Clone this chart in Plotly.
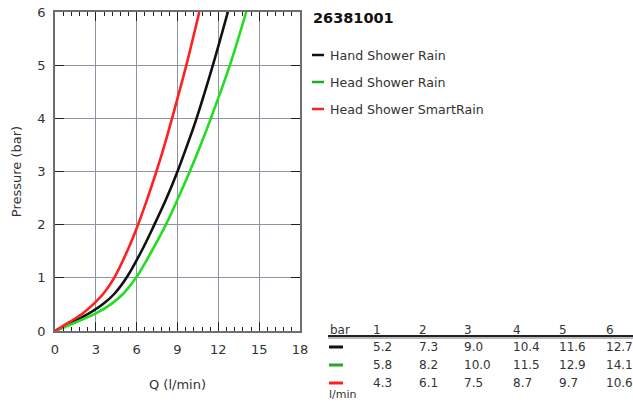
import plotly.graph_objects as go

# ---- data ----
title_text = "26381001"
series_names = ["Hand Shower Rain", "Head Shower Rain", "Head Shower SmartRain"]
series_colors = ["#111111", "#22dd22", "#ff2020"]
table_colors = ["#111111", "#22aa22", "#ff2020"]

# curves: flow (l/min) at given pressures
curve_pressures = [0, 0.17, 0.33, 0.52, 0.71, 1, 1.5, 2, 2.5, 3, 3.5, 4, 5, 6]
hand_curve_q = [0, 1.33, 2.5, 3.6, 4.4, 5.25, 6.35, 7.3, 8.2, 9.0, 9.72, 10.4, 11.6, 12.7]
head_curve_q = [0, 1.58, 3.0, 4.2, 5.05, 5.95, 7.1, 8.15, 9.05, 9.9, 10.7, 11.45, 12.85, 14.05]
smart_curve_q = [0, 1.08, 2.03, 2.88, 3.58, 4.35, 5.3, 6.1, 6.8, 7.45, 8.05, 8.6, 9.65, 10.6]

# table: flow (l/min) at given pressure (bar)
pressure_levels = [1, 2, 3, 4, 5, 6]
hand_q = [5.2, 7.3, 9.0, 10.4, 11.6, 12.7]
head_q = [5.8, 8.2, 10.0, 11.5, 12.9, 14.1]
smart_q = [4.3, 6.1, 7.5, 8.7, 9.7, 10.6]

x_ticks = [0, 3, 6, 9, 12, 15, 18]
y_ticks = [0, 1, 2, 3, 4, 5, 6]

W, H = 633, 403
FONT = "DejaVu Sans"

def px(x):
    return x / W

def py(y):
    return 1 - y / H

fig = go.Figure()
curves = [hand_curve_q, head_curve_q, smart_curve_q]
for name, color, q in zip(series_names, series_colors, curves):
    fig.add_trace(go.Scatter(
        x=q, y=curve_pressures, mode="lines",
        line=dict(color=color, width=2.6, shape="spline", smoothing=1.0),
        name=name, showlegend=False, cliponaxis=True, hoverinfo="skip"))

axis_common = dict(
    automargin=False,
    showline=True, linecolor="#6e6e6e", linewidth=1.5, mirror="ticks",
    ticks="inside", ticklen=9, tickcolor="#222222", tickwidth=1.2,
    showgrid=True, gridcolor="#8c93a3", gridwidth=1, zeroline=False,
    tickfont=dict(family=FONT, size=13, color="#333333"),
)

fig.update_layout(
    width=W, height=H, margin=dict(l=0, r=0, t=0, b=0, pad=0, autoexpand=False),
    paper_bgcolor="white", plot_bgcolor="white",
    font=dict(family=FONT, color="#333333"),
    xaxis=dict(domain=[px(55), px(300)], range=[0, 18], tickvals=x_ticks, ticklabelstandoff=6,
               title=dict(text="Q (l/min)", font=dict(family=FONT, size=13, color="#333333"), standoff=24),
               minor=dict(dtick=0.6, tick0=0, ticks="inside", ticklen=4, tickcolor="#222222", showgrid=False),
               **axis_common),
    yaxis=dict(domain=[py(331), py(12)], range=[0, 6], tickvals=y_ticks, ticklabelstandoff=5,
               title=dict(text="Pressure (bar)", font=dict(family=FONT, size=13, color="#333333"), standoff=13),
               **axis_common),
)

annotations = []
shapes = []

# title
annotations.append(dict(x=px(311), y=py(18), xref="paper", yref="paper", xanchor="left", yanchor="middle",
                        text="<b>" + title_text + "</b>", showarrow=False,
                        font=dict(family=FONT, size=14.5, color="#111111")))

# legend
legend_y = [55, 82, 109]
for name, color, ly in zip(series_names, table_colors, legend_y):
    shapes.append(dict(type="line", xref="paper", yref="paper", x0=px(312), x1=px(324), y0=py(ly), y1=py(ly),
                       line=dict(color=color, width=2.5)))
    annotations.append(dict(x=px(328), y=py(ly), xref="paper", yref="paper", xanchor="left", yanchor="middle",
                            text=name, showarrow=False, font=dict(family=FONT, size=12.6, color="#333333")))

# table
col_x = [371, 417, 462, 511, 557, 604]
header_y = 330
row_y = [347, 365, 383]
tfont = dict(family=FONT, size=12, color="#333333")
annotations.append(dict(x=px(328), y=py(header_y), xref="paper", yref="paper", xanchor="left", yanchor="middle",
                        text="bar", showarrow=False, font=tfont))
for cx, p in zip(col_x, pressure_levels):
    annotations.append(dict(x=px(cx), y=py(header_y), xref="paper", yref="paper", xanchor="left", yanchor="middle",
                            text=str(p), showarrow=False, font=tfont))
shapes.append(dict(type="line", xref="paper", yref="paper", x0=px(328), x1=px(633), y0=py(336), y1=py(336),
                   line=dict(color="#222222", width=2)))
shapes.append(dict(type="line", xref="paper", yref="paper", x0=px(328), x1=px(633), y0=py(338), y1=py(338),
                   line=dict(color="#777777", width=1)))
for vals, color, ry in zip([hand_q, head_q, smart_q], table_colors, row_y):
    shapes.append(dict(type="line", xref="paper", yref="paper", x0=px(329), x1=px(343), y0=py(ry), y1=py(ry),
                       line=dict(color=color, width=3)))
    for cx, v in zip(col_x, vals):
        annotations.append(dict(x=px(cx), y=py(ry), xref="paper", yref="paper", xanchor="left", yanchor="middle",
                                text=f"{v:.1f}", showarrow=False, font=tfont))
annotations.append(dict(x=px(327), y=py(394), xref="paper", yref="paper", xanchor="left", yanchor="middle",
                        text="l/min", showarrow=False, font=dict(family=FONT, size=11, color="#333333")))

fig.update_layout(annotations=annotations, shapes=shapes)
fig.write_html("out.html", config={"displayModeBar": False},
               post_script="document.body.style.margin='0';document.body.style.overflow='hidden';")
